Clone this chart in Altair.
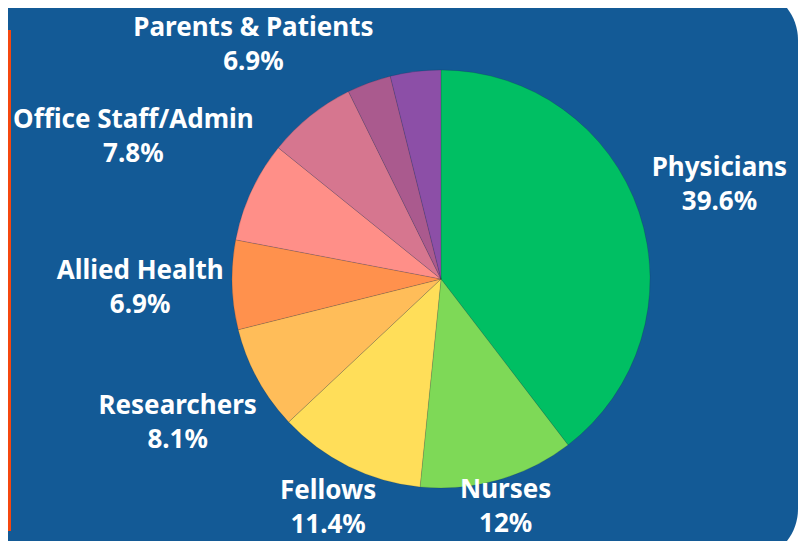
import altair as alt
import pandas as pd

categories = ["Physicians", "Nurses", "Fellows", "Researchers", "Allied Health",
              "Office Staff/Admin", "Parents & Patients", "Other A", "Other B"]
values = [39.6, 12, 11.4, 8.1, 6.9, 7.8, 6.9, 3.4, 3.9]
pct_labels = ["39.6%", "12%", "11.4%", "8.1%", "6.9%", "7.8%", "6.9%", "", ""]
show_label = [True, True, True, True, True, True, True, False, False]
colors = ["#00bf63", "#7ed957", "#ffde59", "#ffbd59", "#ff914d",
          "#ff8f88", "#d6768f", "#aa5a8e", "#8c4fa7"]

# layout: radial distance of each label from the pie centre (px)
label_radius = {"Physicians": 294, "Nurses": 237, "Fellows": 255, "Researchers": 300,
                "Allied Health": 301, "Office Staff/Admin": 339, "Parents & Patients": 300,
                "Other A": 0, "Other B": 0}

df = pd.DataFrame({
    "category": categories,
    "value": values,
    "order": list(range(len(categories))),
    "label": [f"{c}\n{p}" if s else "" for c, p, s in zip(categories, pct_labels, show_label)],
    "lr": [label_radius[c] for c in categories],
})
total = float(sum(values))
df["mid"] = df["value"].cumsum() - df["value"] / 2

W, H = 790, 533
CX, CY = 433, 271
BLUE = "#135a96"

bg = alt.Chart(pd.DataFrame({"a": [0]})).mark_rect(
    color=BLUE, cornerRadiusTopRight=52, cornerRadiusBottomRight=52
).encode(x=alt.value(-10), x2=alt.value(W), y=alt.value(-20), y2=alt.value(H + 20))

edge = alt.Chart(pd.DataFrame({"a": [0]})).mark_rule(
    color="#f5470f", strokeWidth=3
).encode(x=alt.value(1.5), y=alt.value(22), y2=alt.value(523))

pie = alt.Chart(df).mark_arc(outerRadius=209, stroke="#000000", strokeOpacity=0.12, strokeWidth=1).encode(
    theta=alt.Theta("value:Q", stack=True, scale=alt.Scale(domain=[0, total])),
    order=alt.Order("order:Q", sort="ascending"),
    color=alt.Color("category:N", scale=alt.Scale(domain=categories, range=colors), legend=None),
    x=alt.value(CX), y=alt.value(CY),
)

labels = alt.Chart(df[df["label"] != ""]).mark_text(
    font="Noto Sans", fontSize=26, fontWeight="bold", color="white",
    lineBreak="\n", lineHeight=34, align="center", baseline="middle", dy=-17,
).encode(
    theta=alt.Theta("mid:Q", stack=None, scale=alt.Scale(domain=[0, total])),
    text="label:N",
    radius=alt.Radius("lr:Q", scale=None),
    x=alt.value(CX), y=alt.value(CY),
)

chart = alt.layer(bg, edge, pie, labels).resolve_scale(theta="independent").properties(
    width=W, height=H, padding=0, background="white",
    autosize=alt.AutoSizeParams(type="none"),
).configure_view(stroke=None)

chart.save("out.html", embed_options={"renderer": "svg", "actions": False})
